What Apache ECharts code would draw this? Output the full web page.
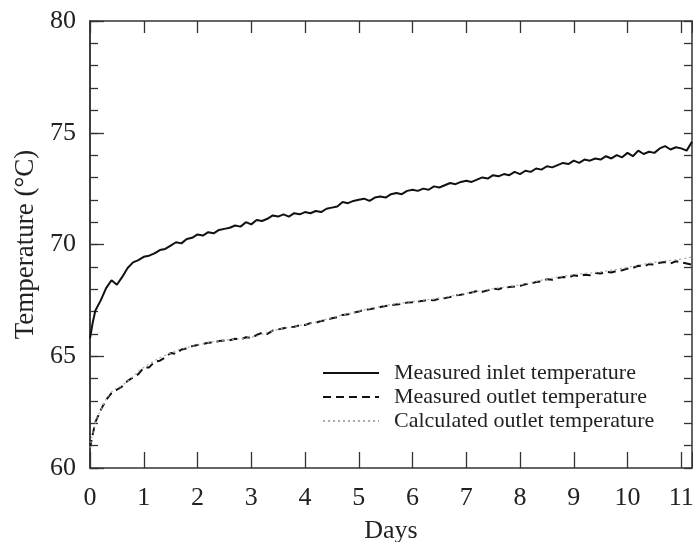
<!DOCTYPE html>
<html>
<head>
<meta charset="utf-8">
<script src="https://cdn.jsdelivr.net/npm/echarts@6/dist/echarts.min.js"></script>
<style>
  html, body { margin: 0; padding: 0; background: #fff; }
  #chart { width: 693px; height: 542px; }
</style>
</head>
<body>
<div id="chart"></div>
<script>
  // days (x values), shared by the two measured series
  var days = [0, 0.05, 0.1, 0.2, 0.3, 0.4, 0.5, 0.6, 0.7, 0.8, 0.9,
    1.0, 1.1, 1.2, 1.3, 1.4, 1.5, 1.6, 1.7, 1.8, 1.9,
    2.0, 2.1, 2.2, 2.3, 2.4, 2.5, 2.6, 2.7, 2.8, 2.9,
    3.0, 3.1, 3.2, 3.3, 3.4, 3.5, 3.6, 3.7, 3.8, 3.9,
    4.0, 4.1, 4.2, 4.3, 4.4, 4.5, 4.6, 4.7, 4.8, 4.9,
    5.0, 5.1, 5.2, 5.3, 5.4, 5.5, 5.6, 5.7, 5.8, 5.9,
    6.0, 6.1, 6.2, 6.3, 6.4, 6.5, 6.6, 6.7, 6.8, 6.9,
    7.0, 7.1, 7.2, 7.3, 7.4, 7.5, 7.6, 7.7, 7.8, 7.9,
    8.0, 8.1, 8.2, 8.3, 8.4, 8.5, 8.6, 8.7, 8.8, 8.9,
    9.0, 9.1, 9.2, 9.3, 9.4, 9.5, 9.6, 9.7, 9.8, 9.9,
    10.0, 10.1, 10.2, 10.3, 10.4, 10.5, 10.6, 10.7, 10.8, 10.9,
    11.0, 11.1, 11.2];

  var inletTemp = [65.8, 66.5, 67.05, 67.5, 68.05, 68.4, 68.2, 68.55, 68.95, 69.2, 69.3,
    69.45, 69.5, 69.6, 69.75, 69.8, 69.95, 70.1, 70.05, 70.25, 70.3,
    70.45, 70.4, 70.55, 70.5, 70.65, 70.7, 70.75, 70.85, 70.8, 71.0,
    70.9, 71.1, 71.05, 71.15, 71.3, 71.25, 71.35, 71.25, 71.4, 71.35,
    71.45, 71.4, 71.5, 71.45, 71.6, 71.65, 71.7, 71.9, 71.85, 71.95,
    72.0, 72.05, 71.95, 72.1, 72.15, 72.1, 72.25, 72.3, 72.25, 72.4,
    72.45, 72.4, 72.5, 72.45, 72.6, 72.55, 72.65, 72.75, 72.7, 72.8,
    72.85, 72.8, 72.9, 73.0, 72.95, 73.1, 73.05, 73.15, 73.1, 73.25,
    73.15, 73.3, 73.25, 73.4, 73.35, 73.5, 73.45, 73.55, 73.65, 73.6,
    73.75, 73.65, 73.8, 73.75, 73.85, 73.8, 73.95, 73.85, 74.0, 73.9,
    74.1, 73.95, 74.2, 74.05, 74.15, 74.1, 74.3, 74.4, 74.25, 74.35,
    74.3, 74.2, 74.6];

  var outletTemp = [60.9, 61.5, 62.05, 62.6, 63.05, 63.35, 63.5, 63.65, 63.9, 64.05, 64.2,
    64.5, 64.5, 64.75, 64.8, 64.95, 65.15, 65.1, 65.3, 65.35, 65.45,
    65.5, 65.55, 65.6, 65.62, 65.68, 65.7, 65.72, 65.78, 65.75, 65.85,
    65.82, 65.95, 66.05, 66.0, 66.15, 66.2, 66.25, 66.3, 66.32, 66.38,
    66.4, 66.48, 66.5, 66.58, 66.62, 66.7, 66.75, 66.85, 66.88, 66.95,
    67.0, 67.08, 67.1, 67.15, 67.2, 67.25, 67.28, 67.32, 67.35, 67.4,
    67.42, 67.45, 67.48, 67.52, 67.5, 67.58, 67.6, 67.65, 67.72, 67.75,
    67.8, 67.85, 67.92, 67.88, 67.95, 68.02, 68.0, 68.08, 68.1, 68.12,
    68.15, 68.22, 68.25, 68.32, 68.35, 68.45, 68.42, 68.5, 68.55, 68.52,
    68.62, 68.58, 68.65, 68.62, 68.72, 68.7, 68.78, 68.75, 68.82, 68.85,
    68.92, 68.95, 69.05, 69.02, 69.12, 69.1, 69.18, 69.22, 69.15, 69.25,
    69.2, 69.15, 69.1];

  // calculated outlet temperature (smoother, coarser sampling)
  var calcDays = [0, 0.1, 0.2, 0.4, 0.6, 0.8, 1, 1.5, 2, 2.5, 3, 3.5, 4, 4.5, 5,
    5.5, 6, 6.5, 7, 7.5, 8, 8.5, 9, 9.5, 10, 10.5, 11, 11.2];
  var calcTemp = [60.9, 62.0, 62.6, 63.4, 63.7, 64.1, 64.5, 65.15, 65.5, 65.72, 65.85,
    66.2, 66.42, 66.72, 67.02, 67.27, 67.45, 67.6, 67.82, 68.02, 68.2, 68.45,
    68.65, 68.78, 68.98, 69.2, 69.35, 69.45];

  var seriesNames = ['Measured inlet temperature', 'Measured outlet temperature', 'Calculated outlet temperature'];

  function pairs(xs, ys) {
    return xs.map(function (x, i) { return [x, ys[i]]; });
  }

  var serif = 'Liberation Serif';
  var axisColor = '#333';
  var tickStyle = { color: axisColor, width: 1.3 };
  var frameLine = { show: true, lineStyle: { color: axisColor, width: 1.5 } };

  var myChart = echarts.init(document.getElementById('chart'));
  var option = {
    backgroundColor: '#fff',
    animation: false,
    grid: { left: 90, right: 1, top: 21, bottom: 74, outerBoundsMode: 'none', containLabel: false },
    xAxis: [{
      type: 'value',
      min: 0,
      max: 11.2,
      interval: 1,
      name: 'Days',
      nameLocation: 'middle',
      nameGap: 50,
      nameTextStyle: { fontFamily: serif, fontSize: 26, color: '#222' },
      axisLine: frameLine,
      axisTick: { inside: true, length: 16, lineStyle: tickStyle },
      axisLabel: {
        margin: 17,
        fontFamily: serif, fontSize: 26, color: '#222',
        formatter: function (v) { return Number.isInteger(v) ? String(v) : ''; }
      },
      splitLine: { show: false }
    }, {
      type: 'value',
      position: 'top',
      min: 0,
      max: 11.2,
      interval: 1,
      axisLine: frameLine,
      axisTick: { inside: true, length: 12, lineStyle: tickStyle },
      axisLabel: { show: false },
      splitLine: { show: false }
    }],
    yAxis: [{
      type: 'value',
      min: 60,
      max: 80,
      interval: 5,
      name: 'Temperature (°C)',
      nameLocation: 'middle',
      nameGap: 50,
      nameTextStyle: { fontFamily: serif, fontSize: 27, color: '#222' },
      axisLine: frameLine,
      axisTick: { inside: true, length: 14, lineStyle: tickStyle },
      axisLabel: { margin: 14, fontFamily: serif, fontSize: 26, color: '#222' },
      splitLine: { show: false }
    }, {
      // minor ticks on the left edge
      type: 'value',
      position: 'left',
      min: 60,
      max: 80,
      interval: 1,
      axisLine: frameLine,
      axisTick: { inside: true, length: 8, lineStyle: tickStyle },
      axisLabel: { show: false },
      splitLine: { show: false }
    }, {
      type: 'value',
      position: 'right',
      min: 60,
      max: 80,
      interval: 1,
      axisLine: frameLine,
      axisTick: { inside: true, length: 8, lineStyle: tickStyle },
      axisLabel: { show: false },
      splitLine: { show: false }
    }],
    legend: {
      orient: 'vertical',
      left: 317,
      top: 357,
      itemWidth: 56,
      itemHeight: 1,
      itemGap: 2,
      itemStyle: { opacity: 0 },
      data: seriesNames,
      textStyle: { fontFamily: serif, fontSize: 22, color: '#222', padding: [0, 0, 0, 10] }
    },
    series: [{
      name: seriesNames[0],
      type: 'line',
      symbol: 'none',
      data: pairs(days, inletTemp),
      lineStyle: { color: '#111', width: 2 },
      itemStyle: { color: '#111' }
    }, {
      name: seriesNames[1],
      type: 'line',
      symbol: 'none',
      data: pairs(days, outletTemp),
      lineStyle: { color: '#111', width: 2, type: [8, 5] },
      itemStyle: { color: '#111' }
    }, {
      name: seriesNames[2],
      type: 'line',
      symbol: 'none',
      smooth: true,
      data: pairs(calcDays, calcTemp),
      lineStyle: { color: '#aaa', width: 1.2, type: [2, 3] },
      itemStyle: { color: '#aaa' }
    }]
  };
  myChart.setOption(option);
</script>
</body>
</html>
